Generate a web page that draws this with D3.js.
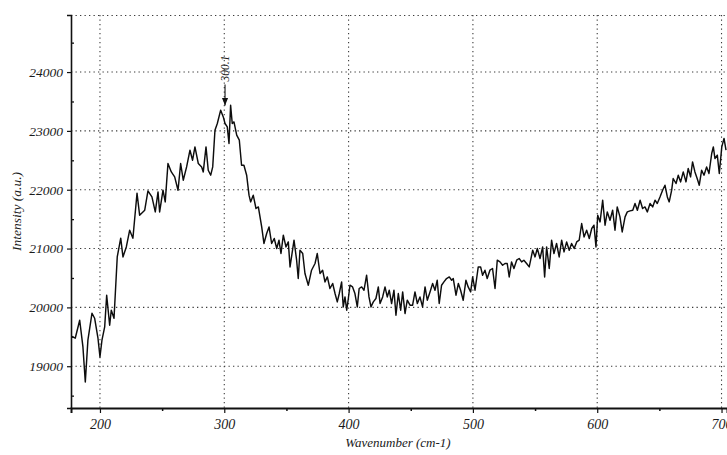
<!DOCTYPE html>
<html>
<head>
<meta charset="utf-8">
<script src="https://cdn.jsdelivr.net/npm/d3@7/dist/d3.min.js"></script>
<style>
  html, body { margin: 0; padding: 0; background: #fff; }
  svg { display: block; }
  text { font-family: "Liberation Serif", "DejaVu Serif", serif; font-style: italic; fill: #1a1a1a; }
</style>
</head>
<body>
<svg id="chart" width="727" height="455"></svg>
<script>
// ---- data ----
const wavenumber = [
  176.9,180.1,183.7,186.3,188.2,190.3,193.6,195.7,198.4,200,201.6,203.8,205.4,207.8,209.1,211.3,213.9,216.7,218.5,221.2,223.9,226.5,229.8,231.9,236,238.6,241.8,244.5,246.7,248,250.7,252.5,254.7,257.4,260.1,262.8,264.9,
  267,269.7,272.4,274.5,276.4,279.1,281.8,283.1,285.3,287.1,289.1,290.7,292.5,294.4,297.1,299.2,300.6,302.4,303.8,305.1,306.4,307.8,310,312.1,313.9,315.8,318,319.9,321.2,323.3,325.5,327.4,330.1,331.9,334.1,336,338.1,340.2,342.2,344,345.6,347.5,349.6,351.5,352.9,
  356.1,358.2,359.5,360.9,363.1,364.9,367.6,370.2,373,374.8,377,379.1,381,382.9,385,387.2,389.1,390.9,392.5,394.4,395.7,397.1,398.5,399.8,401.1,403.2,405.1,407,408.5,410.5,412.4,414.5,416.4,418,419.9,422,423.9,425.3,427.4,429.3,431.1,432.7,434.6,436.5,438.1,440,441.9,443.5,445.4,447.2,449.4,
  451.5,453.4,455.3,457.4,459.5,461.5,463.3,465.5,467.6,469.5,471.3,472.9,474.8,476.7,478.8,481,482.9,484.2,486.4,488.3,490.1,492.2,494.4,496.2,498.2,499.8,501.7,503,504.3,506.2,507.8,509.7,511.5,513.7,515.8,517.8,519.6,521.8,523.9,525.8,527.6,529.2,531.1,533,535.2,537.2,539.2,541,543.2,545.3,
  548.1,550,551.8,554,556.1,557.7,559.3,561.4,563.3,565.2,567.3,569.4,571.4,573.3,575.4,577.5,579.4,581.5,583.5,585.5,587.5,589.4,591.5,593.6,595.6,597.4,599,600.4,602.3,604.4,606.3,608.1,610.3,612.4,614.3,616.1,618.3,620.1,622.4,624.2,
  626.4,628.6,630.4,632.3,634.5,636.5,638.4,640.3,642.5,644.6,646.5,648.3,650.5,652.6,654.5,656.4,657.9,659.9,661.1,663.4,665.2,667.1,669.2,671.4,673.2,675.1,676.7,678.6,680.4,682.1,684,685.9,688,689.9,692.1,693.4,694.7,696.6,698.2,700.2,702,703.6
];
const intensity = [
  19510,19476,19782,19328,18733,19442,19901,19816,19476,19158,19442,19668,20207,19697,19952,19816,20858,21176,20858,21028,21312,21176,21941,21567,21652,21980,21878,21623,21963,21623,21992,21793,22446,22303,22218,21992,22446,
  22162,22388,22672,22502,22728,22446,22388,22303,22728,22332,22247,22388,23012,23126,23352,23238,23126,23068,22786,23437,23126,23153,22927,22842,22417,22417,22247,21907,21793,21907,21681,21708,21368,21086,21256,21368,21086,21171,21001,21142,20916,21227,21028,21113,20688,
  21142,20802,20491,20972,20916,20576,20377,20632,20746,20916,20576,20632,20433,20518,20321,20406,20236,20093,20236,20433,20008,20178,19952,20151,20377,20348,20236,20008,20321,20348,20292,20547,20178,20008,20093,20151,20348,20066,20178,20348,20178,20292,20066,20292,19867,20236,19952,20263,19896,20122,20037,
  20037,20263,20066,20178,20008,20348,20122,20263,20406,20292,20462,20066,20377,20433,20491,20518,20462,20491,20207,20406,20292,20122,20462,20348,20263,20518,20292,20491,20688,20688,20547,20632,20491,20632,20661,20321,20802,20773,20717,20746,20746,20518,20773,20661,20802,20831,20773,20802,20746,20688,
  20972,20858,21001,20831,21028,20518,21028,20661,21142,20916,21086,20858,21142,20943,21113,20972,21086,21001,21113,21142,21426,21198,21312,21171,21341,21397,21028,21567,21453,21822,21397,21623,21482,21652,21312,21708,21538,21283,21538,21623,
  21640,21652,21766,21652,21822,21681,21708,21623,21766,21708,21822,21766,21878,21992,22077,21878,21793,21992,22191,22106,22247,22133,22303,22133,22361,22218,22473,22303,22191,22077,22332,22247,22388,22276,22616,22728,22531,22587,22276,22728,22871,22672
];
const xTickValues = [200, 300, 400, 500, 600, 700];
const xMinorValues = [250, 350, 450, 550, 650];
const yTickValues = [19000, 20000, 21000, 22000, 23000, 24000];
const yMinorValues = [18500, 19500, 20500, 21500, 22500, 23500, 24500];
const xTitle = "Wavenumber (cm-1)";
const yTitle = "Intensity (a.u.)";
const peakLabel = "300.1";
const peakPosition = 300.6;
const peakArrowFrom = 23790;
const peakArrowTo = 23430;

// ---- layout ----
const svg = d3.select("#chart");
const W = 727, H = 455;
const m = { left: 71, right: 0, top: 15, bottom: 47 };
const x = d3.scaleLinear().domain([176.7, 704.4]).range([m.left, W - m.right]);
const y = d3.scaleLinear().domain([18290, 24970]).range([H - m.bottom, m.top]);
const x0 = m.left, x1 = W - m.right, y0 = H - m.bottom, y1 = m.top;

const grid = svg.append("g").attr("stroke", "#3a3a3a").attr("stroke-width", 1.1)
  .attr("stroke-dasharray", "1.3,3.2").attr("fill", "none");
xTickValues.forEach(v => grid.append("line").attr("x1", x(v)).attr("x2", x(v)).attr("y1", y1).attr("y2", y0));
yTickValues.forEach(v => grid.append("line").attr("x1", x0).attr("x2", x1).attr("y1", y(v)).attr("y2", y(v)));
grid.append("line").attr("x1", x0).attr("x2", x1).attr("y1", y1 + 0.5).attr("y2", y1 + 0.5);

// spectrum
const pts = wavenumber.map((w, i) => [w, intensity[i]]);
svg.append("path").datum(pts)
  .attr("fill", "none").attr("stroke", "#0d0d0d").attr("stroke-width", 1.45).attr("stroke-linejoin", "round")
  .attr("d", d3.line().x(d => x(d[0])).y(d => y(d[1])));

// axes
const xAxis = d3.axisBottom(x).tickValues(xTickValues).tickSize(5).tickPadding(6).tickFormat(d3.format("d"));
const gx = svg.append("g").attr("transform", `translate(0,${y0})`).call(xAxis);
gx.select(".domain").attr("stroke", "#111").attr("stroke-width", 2);
gx.selectAll(".tick line").attr("stroke", "#111").attr("stroke-width", 1.2);
gx.selectAll(".tick text").attr("font-size", 14).attr("font-family", "Liberation Serif").attr("font-style", "italic").attr("fill", "#1a1a1a");
const xMinor = d3.axisBottom(x).tickValues(xMinorValues).tickSize(3).tickFormat("");
const gxm = svg.append("g").attr("transform", `translate(0,${y0})`).call(xMinor);
gxm.select(".domain").remove();
gxm.selectAll(".tick line").attr("stroke", "#111").attr("stroke-width", 1.5);

const yAxis = d3.axisLeft(y).tickValues(yTickValues).tickSize(4).tickPadding(4).tickFormat(d3.format("d"));
const gy = svg.append("g").attr("transform", `translate(${x0},0)`).call(yAxis);
gy.select(".domain").attr("stroke", "#111").attr("stroke-width", 1.6);
gy.selectAll(".tick line").attr("stroke", "#111").attr("stroke-width", 1.2);
gy.selectAll(".tick text").attr("font-size", 13.5).attr("font-family", "Liberation Serif").attr("font-style", "italic").attr("fill", "#1a1a1a");
const yMinor = d3.axisRight(y).tickValues(yMinorValues).tickSize(3).tickFormat("");
const gym = svg.append("g").attr("transform", `translate(${x0},0)`).call(yMinor);
gym.select(".domain").remove();
gym.selectAll(".tick line").attr("stroke", "#111").attr("stroke-width", 1.3);

// titles
svg.append("text").attr("x", (x0 + x1) / 2 - 1).attr("y", 447).attr("text-anchor", "middle")
  .attr("font-size", 13).text(xTitle);
svg.append("text").attr("transform", `translate(21,${(y0 + y1) / 2}) rotate(-90)`).attr("text-anchor", "middle")
  .attr("font-size", 13.5).text(yTitle);

// peak annotation
const px = x(peakPosition);
svg.append("defs").append("marker").attr("id", "arr").attr("viewBox", "0 0 10 10").attr("refX", 10).attr("refY", 5)
  .attr("markerWidth", 7).attr("markerHeight", 7).attr("orient", "auto")
  .append("path").attr("d", "M0,1 L10,5 L0,9 Z").attr("fill", "#111");
svg.append("line").attr("x1", px).attr("x2", px).attr("y1", y(peakArrowFrom)).attr("y2", y(peakArrowTo))
  .attr("stroke", "#111").attr("stroke-width", 1.1).attr("marker-end", "url(#arr)");
svg.append("text").attr("transform", `translate(${px + 4},${y(peakArrowFrom) - 3}) rotate(-90)`)
  .attr("font-size", 11.5).text(peakLabel);
</script>
</body>
</html>
